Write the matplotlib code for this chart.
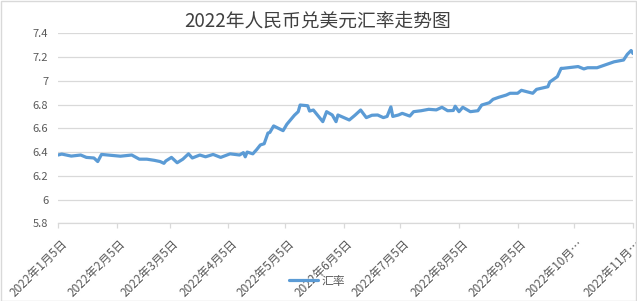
import matplotlib
matplotlib.use("Agg")
import matplotlib.pyplot as plt
import matplotlib.dates as mdates
from matplotlib.transforms import ScaledTranslation
from matplotlib.patches import Rectangle
import numpy as np
import datetime as dt

plt.rcParams['font.family'] = ['Noto Sans CJK SC', 'DejaVu Sans']

title = "2022年人民币兑美元汇率走势图"
series_name = "汇率"

dates = [
    "2022-01-05", "2022-01-07", "2022-01-12", "2022-01-17", "2022-01-20", "2022-01-24",
    "2022-01-26", "2022-01-28", "2022-02-07", "2022-02-13", "2022-02-17", "2022-02-21",
    "2022-02-25", "2022-02-28", "2022-03-02", "2022-03-03", "2022-03-06", "2022-03-09",
    "2022-03-12", "2022-03-15", "2022-03-17", "2022-03-21", "2022-03-24", "2022-03-28",
    "2022-04-01", "2022-04-06", "2022-04-11", "2022-04-13", "2022-04-14", "2022-04-15",
    "2022-04-18", "2022-04-20", "2022-04-22", "2022-04-24", "2022-04-26", "2022-04-27",
    "2022-04-29", "2022-05-04", "2022-05-06", "2022-05-10", "2022-05-12", "2022-05-13",
    "2022-05-17", "2022-05-18", "2022-05-20", "2022-05-25", "2022-05-27", "2022-05-30",
    "2022-06-01", "2022-06-02", "2022-06-08", "2022-06-11", "2022-06-14", "2022-06-17",
    "2022-06-20", "2022-06-23", "2022-06-26", "2022-06-28", "2022-06-30", "2022-07-01",
    "2022-07-04", "2022-07-06", "2022-07-10", "2022-07-12", "2022-07-16", "2022-07-20",
    "2022-07-24", "2022-07-27", "2022-07-30", "2022-08-02", "2022-08-03", "2022-08-05",
    "2022-08-07", "2022-08-11", "2022-08-15", "2022-08-17", "2022-08-21", "2022-08-23",
    "2022-08-26", "2022-08-30", "2022-09-01", "2022-09-05", "2022-09-07", "2022-09-13",
    "2022-09-15", "2022-09-21", "2022-09-22", "2022-09-26", "2022-09-28", "2022-09-29",
    "2022-10-07", "2022-10-10", "2022-10-12", "2022-10-17", "2022-10-26", "2022-10-31",
    "2022-11-02", "2022-11-04", "2022-11-05",
]
rates = [
    6.375, 6.383, 6.366, 6.375, 6.355, 6.350,
    6.320, 6.380, 6.365, 6.375, 6.340, 6.340,
    6.330, 6.320, 6.305, 6.325, 6.355, 6.310,
    6.340, 6.385, 6.350, 6.375, 6.360, 6.380,
    6.355, 6.385, 6.375, 6.395, 6.360, 6.400,
    6.385, 6.420, 6.460, 6.470, 6.560, 6.565,
    6.620, 6.580, 6.634, 6.710, 6.740, 6.796,
    6.790, 6.745, 6.754, 6.656, 6.740, 6.712,
    6.656, 6.712, 6.670, 6.710, 6.754, 6.690,
    6.710, 6.712, 6.690, 6.700, 6.780, 6.700,
    6.712, 6.726, 6.703, 6.740, 6.748, 6.760,
    6.755, 6.777, 6.748, 6.750, 6.786, 6.740,
    6.777, 6.740, 6.748, 6.796, 6.815, 6.844,
    6.861, 6.880, 6.895, 6.895, 6.920, 6.895,
    6.928, 6.950, 6.990, 7.035, 7.105, 7.105,
    7.120, 7.100, 7.110, 7.110, 7.160, 7.175,
    7.223, 7.255, 7.230,
]

tick_dates = ["2022-01-05", "2022-02-05", "2022-03-05", "2022-04-05", "2022-05-05",
              "2022-06-05", "2022-07-05", "2022-08-05", "2022-09-05", "2022-10-05",
              "2022-11-05"]
tick_labels = ["2022年1月5日", "2022年2月5日", "2022年3月5日", "2022年4月5日",
               "2022年5月5日", "2022年6月5日", "2022年7月5日", "2022年8月5日",
               "2022年9月5日", "2022年10月…", "2022年11月…"]
y_ticks = [5.8, 6.0, 6.2, 6.4, 6.6, 6.8, 7.0, 7.2, 7.4]
y_labels = ["5.8", "6", "6.2", "6.4", "6.6", "6.8", "7", "7.2", "7.4"]

x = [dt.datetime.strptime(d, "%Y-%m-%d") for d in dates]
xt = [dt.datetime.strptime(d, "%Y-%m-%d") for d in tick_dates]

W, H = 637, 301
fig = plt.figure(figsize=(W / 100, H / 100), dpi=100)
ax = fig.add_axes([58 / W, 1 - 223.3 / H, (633 - 58) / W, (223.3 - 33.3) / H])

line_color = "#5b9bd5"
grid_color = "#d9d9d9"
text_color = "#595959"

ax.plot(x, rates, color=line_color, lw=2.3, solid_joinstyle="round",
        solid_capstyle="round", label=series_name, zorder=3)

ax.set_xlim(xt[0], xt[-1])
ax.set_ylim(5.8, 7.4)
ax.set_yticks(y_ticks)
ax.set_yticklabels(y_labels)
ax.set_xticks(xt)
ax.set_xticklabels(tick_labels)

ax.grid(axis="y", color=grid_color, lw=0.9, zorder=0)
for s in ["left", "right", "top"]:
    ax.spines[s].set_visible(False)
ax.spines["bottom"].set_color(grid_color)
ax.spines["bottom"].set_linewidth(0.9)

ax.tick_params(axis="y", length=0, pad=7, labelsize=8, labelcolor=text_color)
ax.tick_params(axis="x", length=3.6, width=0.9, color=grid_color, direction="out",
               pad=9.5, labelsize=8.5, labelcolor=text_color)

off = ScaledTranslation(5 / 72, 0, fig.dpi_scale_trans)
for lab in ax.get_xticklabels():
    lab.set_rotation(45)
    lab.set_rotation_mode("anchor")
    lab.set_ha("right")
    lab.set_va("center")
    lab.set_transform(lab.get_transform() + off)

fig.text(317.5 / W, 1 - 22 / H, title, ha="center", va="center",
         fontsize=13.5, color="#404040")

leg = fig.legend(loc="center", bbox_to_anchor=(317 / W, 1 - 281 / H),
                 frameon=False, fontsize=8.5, handlelength=2.4, handletextpad=0.3,
                 labelcolor=text_color)

fig.patches.append(Rectangle((0.5 / W, 0.5 / H), (W - 1.5) / W, (H - 1.5) / H,
                             transform=fig.transFigure, fill=False,
                             edgecolor=grid_color, lw=1.0))

fig.savefig("out.png", dpi=100)
